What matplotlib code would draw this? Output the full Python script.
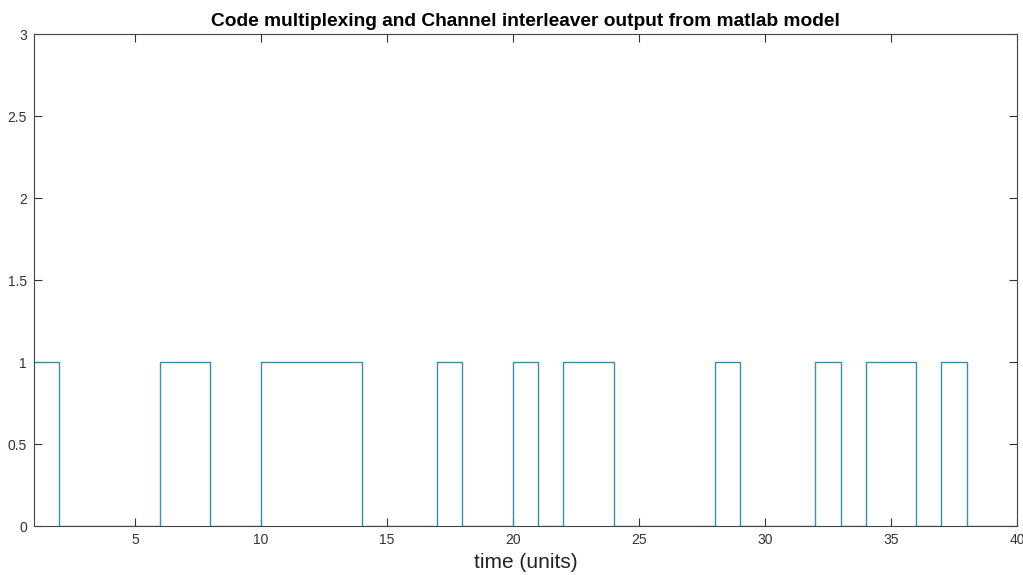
import matplotlib
matplotlib.use("Agg")
import matplotlib.pyplot as plt
import numpy as np

# Interleaver output, one sample per time unit (held until the next sample)
time_units = list(range(1, 41))
bits = [1, 0, 0, 0, 0, 1, 1, 0, 0, 1,
        1, 1, 1, 0, 0, 0, 1, 0, 0, 1,
        0, 1, 1, 0, 0, 0, 0, 1, 0, 0,
        0, 1, 0, 1, 1, 0, 1, 0, 0, 0]

x_ticks = [5, 10, 15, 20, 25, 30, 35, 40]
y_ticks = [0, 0.5, 1, 1.5, 2, 2.5, 3]
y_tick_labels = ["0", "0.5", "1", "1.5", "2", "2.5", "3"]

plt.rcParams['font.family'] = ['Liberation Sans', 'DejaVu Sans']

fig = plt.figure(figsize=(10.23, 5.75), dpi=100)
ax = fig.add_axes([34 / 1023, (575 - 526) / 575, (1017 - 34) / 1023, (526 - 34) / 575])

ax.step(time_units, bits, where='post', color='#3a90a8', linewidth=1.0)

ax.set_xlim(1, 40)
ax.set_ylim(0, 3)
ax.set_xticks(x_ticks)
ax.set_yticks(y_ticks)
ax.set_yticklabels(y_tick_labels)

ax.tick_params(direction='in', top=True, right=True, length=6, width=0.8,
               labelsize=10, labelcolor='#333333', color='#333333', pad=5)
for spine in ax.spines.values():
    spine.set_color('#444444')
    spine.set_linewidth(0.8)

ax.set_title("Code multiplexing and Channel interleaver output from matlab model",
             fontsize=13.8, fontweight='bold', pad=6)
ax.set_xlabel("time (units)", fontsize=15, color='#222222', labelpad=4)

fig.savefig("out.png", dpi=100)
